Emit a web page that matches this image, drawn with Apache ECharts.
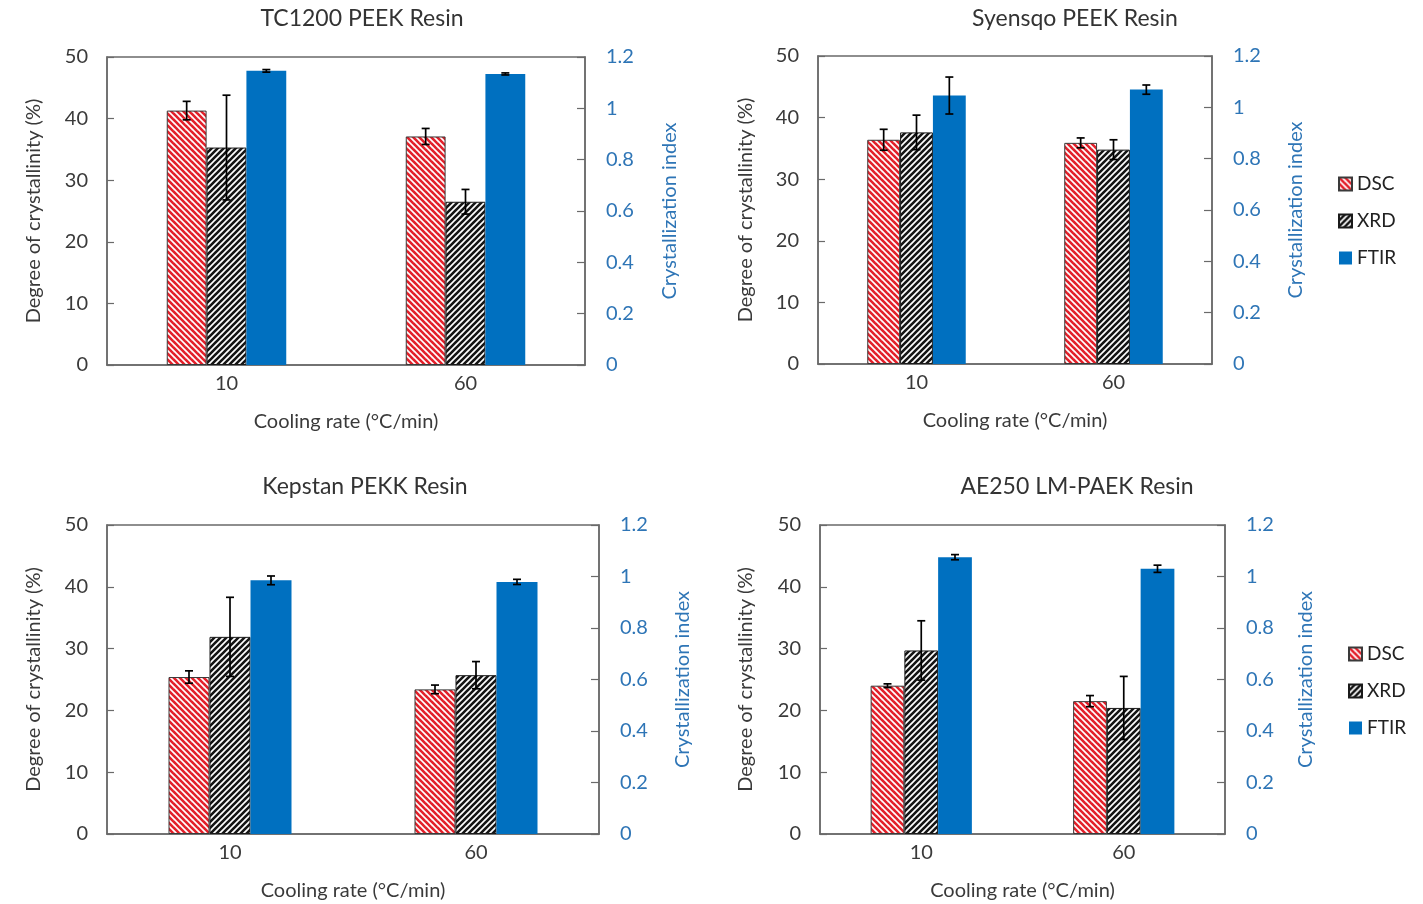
<!DOCTYPE html>
<html>
<head>
<meta charset="utf-8">
<script src="https://cdn.jsdelivr.net/npm/echarts@6/dist/echarts.min.js"></script>
<style>html,body{margin:0;padding:0;background:#fff;}#c{width:1423px;height:904px;}</style>
</head>
<body>
<div id="c"></div>
<script>
// ---- data ----
const categories = ['10', '60'];
const seriesNames = ['DSC', 'XRD', 'FTIR'];
const panelTitles = ['TC1200 PEEK Resin', 'Syensqo PEEK Resin', 'Kepstan PEKK Resin', 'AE250 LM-PAEK Resin'];
const leftTicks = [0, 10, 20, 30, 40, 50];
const rightTicks = [0, 0.2, 0.4, 0.6, 0.8, 1, 1.2];

const tcDSC = [41.3, 37.1], tcDSCerr = [1.5, 1.3];
const tcXRD = [35.3, 26.5], tcXRDerr = [8.5, 2.0];
const tcFTIR = [1.146, 1.134], tcFTIRerr = [0.005, 0.004];

const syDSC = [36.4, 35.9], syDSCerr = [1.7, 0.8];
const syXRD = [37.6, 34.8], syXRDerr = [2.8, 1.6];
const syFTIR = [1.046, 1.069], syFTIRerr = [0.072, 0.018];

const keDSC = [25.4, 23.4], keDSCerr = [1.0, 0.7];
const keXRD = [31.9, 25.7], keXRDerr = [6.4, 2.2];
const keFTIR = [0.985, 0.979], keFTIRerr = [0.017, 0.010];

const aeDSC = [24.0, 21.5], aeDSCerr = [0.3, 0.9];
const aeXRD = [29.7, 20.4], aeXRDerr = [4.8, 5.1];
const aeFTIR = [1.075, 1.030], aeFTIRerr = [0.010, 0.014];

// ---- styling / layout ----
const panelData = [
  {dsc: tcDSC, dscE: tcDSCerr, xrd: tcXRD, xrdE: tcXRDerr, ftir: tcFTIR, ftirE: tcFTIRerr},
  {dsc: syDSC, dscE: syDSCerr, xrd: syXRD, xrdE: syXRDerr, ftir: syFTIR, ftirE: syFTIRerr},
  {dsc: keDSC, dscE: keDSCerr, xrd: keXRD, xrdE: keXRDerr, ftir: keFTIR, ftirE: keFTIRerr},
  {dsc: aeDSC, dscE: aeDSCerr, xrd: aeXRD, xrdE: aeXRDerr, ftir: aeFTIR, ftirE: aeFTIRerr}
];
const grids = [
  {left: 107, top: 57, width: 478, height: 308, titleX: 357, titleY: 2, lGap: 63, rGap: 75},
  {left: 818, top: 56, width: 394, height: 308, titleX: 1070, titleY: 2, lGap: 62, rGap: 74},
  {left: 107, top: 525, width: 492, height: 309, titleX: 360, titleY: 470, lGap: 63, rGap: 74},
  {left: 820, top: 525, width: 405, height: 309, titleX: 1072, titleY: 470, lGap: 64, rGap: 71}
];
const FONT = 'Lato, "Open Sans", sans-serif';
const TXT = '#3a3a3a';
const BLUE = '#0070C0';
const BLUE_TXT = '#2E75B6';
const GAP_FRAC = 0.5;

function stripes(bg, fg, dir) {
  const s = 6;
  const cv = document.createElement('canvas');
  cv.width = s; cv.height = s;
  const g = cv.getContext('2d');
  g.fillStyle = bg; g.fillRect(0, 0, s, s);
  g.strokeStyle = fg; g.lineWidth = 2.6; g.lineCap = 'square';
  for (let k = -1; k <= 1; k++) {
    g.beginPath();
    if (dir === 'back') { g.moveTo(0, k * s); g.lineTo(s, s + k * s); }
    else { g.moveTo(0, s + k * s); g.lineTo(s, k * s); }
    g.stroke();
  }
  return {image: cv, repeat: 'repeat'};
}
const dscFill = stripes('#ffffff', '#E3202A', 'back');
const xrdFill = stripes('#ffffff', '#151515', 'fwd');

function errSeries(idx, vals, errs, slot, yAxisIndex) {
  return {
    type: 'custom',
    xAxisIndex: idx, yAxisIndex: yAxisIndex,
    silent: true, z: 10,
    encode: {x: 0, y: 1},
    data: vals.map((v, i) => [i, v, errs[i]]),
    renderItem: function (params, api) {
      const ci = api.value(0), v = api.value(1), e = api.value(2);
      const hi = api.coord([ci, v + e]);
      const lo = api.coord([ci, v - e]);
      const bw = api.size([1, 0])[0] * (1 - GAP_FRAC) / 3;
      const x = hi[0] + (slot - 1) * bw;
      const cap = 4;
      const st = {stroke: '#000', lineWidth: 1.7};
      return {type: 'group', children: [
        {type: 'line', shape: {x1: x, y1: hi[1], x2: x, y2: lo[1]}, style: st},
        {type: 'line', shape: {x1: x - cap, y1: hi[1], x2: x + cap, y2: hi[1]}, style: st},
        {type: 'line', shape: {x1: x - cap, y1: lo[1], x2: x + cap, y2: lo[1]}, style: st}
      ]};
    }
  };
}

const legendText = {fontFamily: FONT, fontSize: 19, color: '#222', lineHeight: 20};
const option = {
  backgroundColor: '#fff',
  animation: false,
  title: [], grid: [], xAxis: [], yAxis: [], series: [],
  legend: [
    {left: 1333, top: 169, orient: 'vertical', itemWidth: 13, itemHeight: 13, itemGap: 17,
     icon: 'rect', data: seriesNames, textStyle: legendText},
    {left: 1343, top: 639, orient: 'vertical', itemWidth: 13, itemHeight: 13, itemGap: 17,
     icon: 'rect', data: seriesNames, textStyle: legendText}
  ]
};

panelData.forEach((p, i) => {
  const g = grids[i];
  option.title.push({
    text: panelTitles[i], left: g.titleX, top: g.titleY, textAlign: 'center',
    textStyle: {fontFamily: FONT, fontSize: 23, fontWeight: 'normal', color: '#333'}
  });
  option.grid.push({
    left: g.left, top: g.top, width: g.width, height: g.height,
    show: true, borderColor: '#6a6a6a', borderWidth: 1.5, backgroundColor: 'transparent'
  });
  option.xAxis.push({
    type: 'category', gridIndex: i, data: categories,
    name: 'Cooling rate (°C/min)', nameLocation: 'middle', nameGap: 47,
    nameTextStyle: {fontFamily: FONT, fontSize: 20, color: TXT},
    axisLine: {show: true, lineStyle: {color: '#6a6a6a', width: 1.5}},
    axisTick: {show: false},
    axisLabel: {fontFamily: FONT, fontSize: 20, color: TXT, margin: 9},
    splitLine: {show: false}
  });
  option.yAxis.push({
    type: 'value', gridIndex: i, min: leftTicks[0], max: leftTicks[leftTicks.length - 1], interval: 10,
    name: 'Degree of crystallinity (%)', nameLocation: 'middle', nameGap: g.lGap,
    nameTextStyle: {fontFamily: FONT, fontSize: 20, color: TXT},
    axisLine: {show: true, lineStyle: {color: '#6a6a6a', width: 1.5}},
    axisTick: {show: true, inside: true, length: 7, lineStyle: {color: '#6a6a6a', width: 1.2}},
    axisLabel: {fontFamily: FONT, fontSize: 20, color: TXT, margin: 19},
    splitLine: {show: false}
  });
  option.yAxis.push({
    type: 'value', gridIndex: i, position: 'right',
    min: rightTicks[0], max: rightTicks[rightTicks.length - 1], interval: 0.2,
    name: 'Crystallization index', nameLocation: 'middle', nameGap: g.rGap,
    nameTextStyle: {fontFamily: FONT, fontSize: 20, color: BLUE_TXT},
    axisLine: {show: true, lineStyle: {color: '#6a6a6a', width: 1.5}},
    axisTick: {show: true, inside: true, length: 8, lineStyle: {color: '#6a6a6a', width: 1.2}},
    axisLabel: {fontFamily: FONT, fontSize: 20, color: BLUE_TXT, margin: 21},
    splitLine: {show: false}
  });
  const common = {type: 'bar', xAxisIndex: i, barGap: '0%', barCategoryGap: (GAP_FRAC * 100) + '%'};
  option.series.push(Object.assign({}, common, {
    name: 'DSC', yAxisIndex: 2 * i, data: p.dsc,
    itemStyle: {color: dscFill, borderColor: '#3a3a3a', borderWidth: 1}
  }));
  option.series.push(Object.assign({}, common, {
    name: 'XRD', yAxisIndex: 2 * i, data: p.xrd,
    itemStyle: {color: xrdFill, borderColor: '#1a1a1a', borderWidth: 1}
  }));
  option.series.push(Object.assign({}, common, {
    name: 'FTIR', yAxisIndex: 2 * i + 1, data: p.ftir,
    itemStyle: {color: BLUE}
  }));
  option.series.push(errSeries(i, p.dsc, p.dscE, 0, 2 * i));
  option.series.push(errSeries(i, p.xrd, p.xrdE, 1, 2 * i));
  option.series.push(errSeries(i, p.ftir, p.ftirE, 2, 2 * i + 1));
});

const chart = echarts.init(document.getElementById('c'), null, {renderer: 'canvas'});
chart.setOption(option);
</script>
</body>
</html>
